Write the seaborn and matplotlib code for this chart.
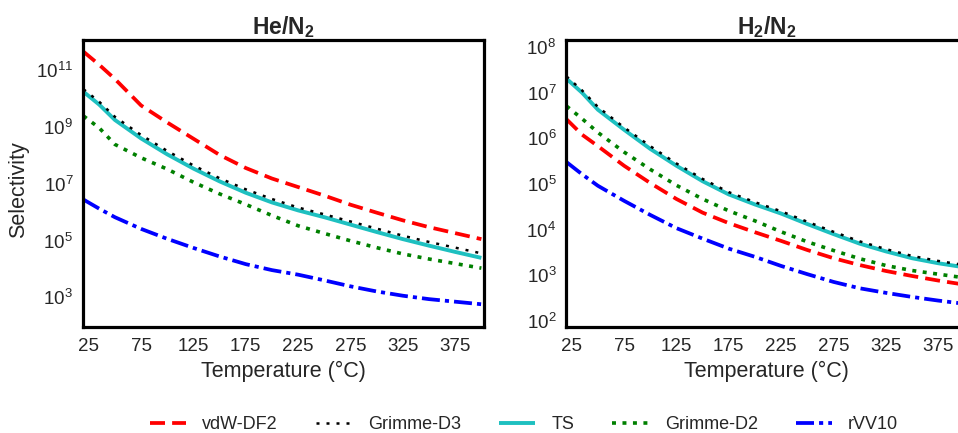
import numpy as np
import pandas as pd
import matplotlib
matplotlib.use('Agg')
import matplotlib.pyplot as plt
import matplotlib.ticker as mticker
import seaborn as sns

sns.set_style('white')
plt.rcParams['font.family'] = ['Liberation Sans', 'DejaVu Sans']
plt.rcParams['mathtext.fontset'] = 'custom'
plt.rcParams['mathtext.rm'] = 'Liberation Sans'
plt.rcParams['mathtext.it'] = 'Liberation Sans:italic'
plt.rcParams['mathtext.bf'] = 'Liberation Sans:bold'

# temperatures (deg C) and selectivities, given as log10 values
temps = [20, 35, 50, 75, 100, 125, 150, 175, 200, 225, 250, 275, 300, 325, 350, 375, 400]
methods = ['vdW-DF2', 'Grimme-D3', 'TS', 'Grimme-D2', 'rVV10']

he_vdw = [11.64, 11.18, 10.68, 9.75, 9.15, 8.58, 8.01, 7.55, 7.18, 6.88, 6.58, 6.26, 5.98, 5.71, 5.47, 5.26, 5.05]
he_d3 = [10.32, 9.88, 9.35, 8.71, 8.15, 7.64, 7.19, 6.80, 6.46, 6.16, 5.92, 5.67, 5.42, 5.17, 4.95, 4.75, 4.55]
he_ts = [10.23, 9.78, 9.24, 8.59, 8.03, 7.53, 7.08, 6.68, 6.34, 6.06, 5.82, 5.56, 5.30, 5.05, 4.82, 4.60, 4.39]
he_d2 = [9.38, 8.96, 8.38, 7.91, 7.51, 7.05, 6.64, 6.27, 5.88, 5.52, 5.25, 4.99, 4.75, 4.53, 4.35, 4.19, 4.03]
he_rvv = [6.44, 6.12, 5.82, 5.41, 5.06, 4.74, 4.44, 4.17, 3.96, 3.80, 3.60, 3.39, 3.21, 3.06, 2.94, 2.85, 2.76]

h2_vdw = [6.42, 6.08, 5.83, 5.40, 5.02, 4.67, 4.37, 4.14, 3.94, 3.75, 3.55, 3.37, 3.22, 3.09, 2.98, 2.88, 2.79]
h2_d3 = [7.36, 7.05, 6.69, 6.24, 5.83, 5.45, 5.11, 4.82, 4.60, 4.40, 4.17, 3.95, 3.74, 3.57, 3.42, 3.31, 3.22]
h2_ts = [7.31, 7.00, 6.63, 6.19, 5.77, 5.40, 5.06, 4.77, 4.55, 4.35, 4.12, 3.90, 3.69, 3.52, 3.37, 3.26, 3.17]
h2_d2 = [6.71, 6.43, 6.13, 5.70, 5.32, 4.97, 4.67, 4.41, 4.19, 3.95, 3.73, 3.54, 3.36, 3.21, 3.10, 3.02, 2.94]
h2_rvv = [5.48, 5.21, 4.96, 4.63, 4.32, 4.03, 3.80, 3.58, 3.40, 3.20, 3.02, 2.85, 2.71, 2.61, 2.52, 2.44, 2.37]

he_data = dict(zip(methods, [he_vdw, he_d3, he_ts, he_d2, he_rvv]))
h2_data = dict(zip(methods, [h2_vdw, h2_d3, h2_ts, h2_d2, h2_rvv]))

colors = {'vdW-DF2': '#ff0000', 'Grimme-D3': '#000000', 'TS': '#1ec0c0',
          'Grimme-D2': '#008000', 'rVV10': '#0000ff'}
styles = {'vdW-DF2': (0, (4.0, 1.9)), 'Grimme-D3': (0, (1.2, 2.8)), 'TS': '-',
          'Grimme-D2': (0, (1.1, 1.8)), 'rVV10': (0, (4.8, 1.35, 1.1, 1.35))}
widths = {'vdW-DF2': 2.7, 'Grimme-D3': 1.8, 'TS': 2.8, 'Grimme-D2': 2.6, 'rVV10': 2.7}
draw_order = ['vdW-DF2', 'TS', 'Grimme-D3', 'Grimme-D2', 'rVV10']

txt = '#262626'
fig = plt.figure(figsize=(9.58, 4.33), dpi=100)
ax1 = fig.add_axes([0.0866, 0.2448, 0.4186, 0.6628])
ax2 = fig.add_axes([0.5908, 0.2448, 0.4186, 0.6628])


def draw(ax, data, title, ylim, yticks):
    df = pd.DataFrame({'T': temps})
    for m in draw_order:
        df[m] = np.power(10.0, data[m])
        sns.lineplot(x='T', y=m, data=df, ax=ax, color=colors[m], linestyle=styles[m],
                     linewidth=widths[m], label=m, solid_capstyle='butt',
                     dash_capstyle='butt')
    if ax.get_legend() is not None:
        ax.get_legend().remove()
    ax.set_yscale('log')
    ax.set_xlim(19.5, 402.5)
    ax.set_ylim(*ylim)
    ax.set_xticks([25, 75, 125, 175, 225, 275, 325, 375])
    ax.yaxis.set_major_locator(mticker.FixedLocator(yticks))
    ax.yaxis.set_major_formatter(mticker.LogFormatterSciNotation())
    ax.yaxis.set_minor_locator(mticker.NullLocator())
    ax.tick_params(direction='in', length=4.5, width=1.5, labelsize=13.5,
                   colors='black', labelcolor=txt, top=False, right=False, pad=7)
    ax.tick_params(axis='x', pad=8)
    for s in ax.spines.values():
        s.set_linewidth(2.3)
        s.set_color('black')
    ax.set_xlabel('Temperature (°C)', fontsize=15.5, color=txt, labelpad=4)
    ax.set_ylabel('')
    ax.set_title(title, fontsize=16.5, color=txt, pad=4)


draw(ax1, he_data, r'$\mathbf{He/N_2}$', (10**1.96, 10**12.05),
     [1e3, 1e5, 1e7, 1e9, 1e11])
draw(ax2, h2_data, r'$\mathbf{H_2/N_2}$', (10**1.86, 10**8.16),
     [1e2, 1e3, 1e4, 1e5, 1e6, 1e7, 1e8])

ax1.set_ylabel('Selectivity', fontsize=15.5, color=txt)
ax1.yaxis.set_label_coords(-0.135, 0.477)

handles, labels = ax1.get_legend_handles_labels()
lookup = dict(zip(labels, handles))
fig.legend([lookup[m] for m in methods], methods, loc='center',
           bbox_to_anchor=(0.547, 0.02), ncol=5, frameon=False, fontsize=13,
           handlelength=2.0, handletextpad=0.9, columnspacing=2.1,
           labelcolor=txt)

fig.savefig('out.png', dpi=100)
